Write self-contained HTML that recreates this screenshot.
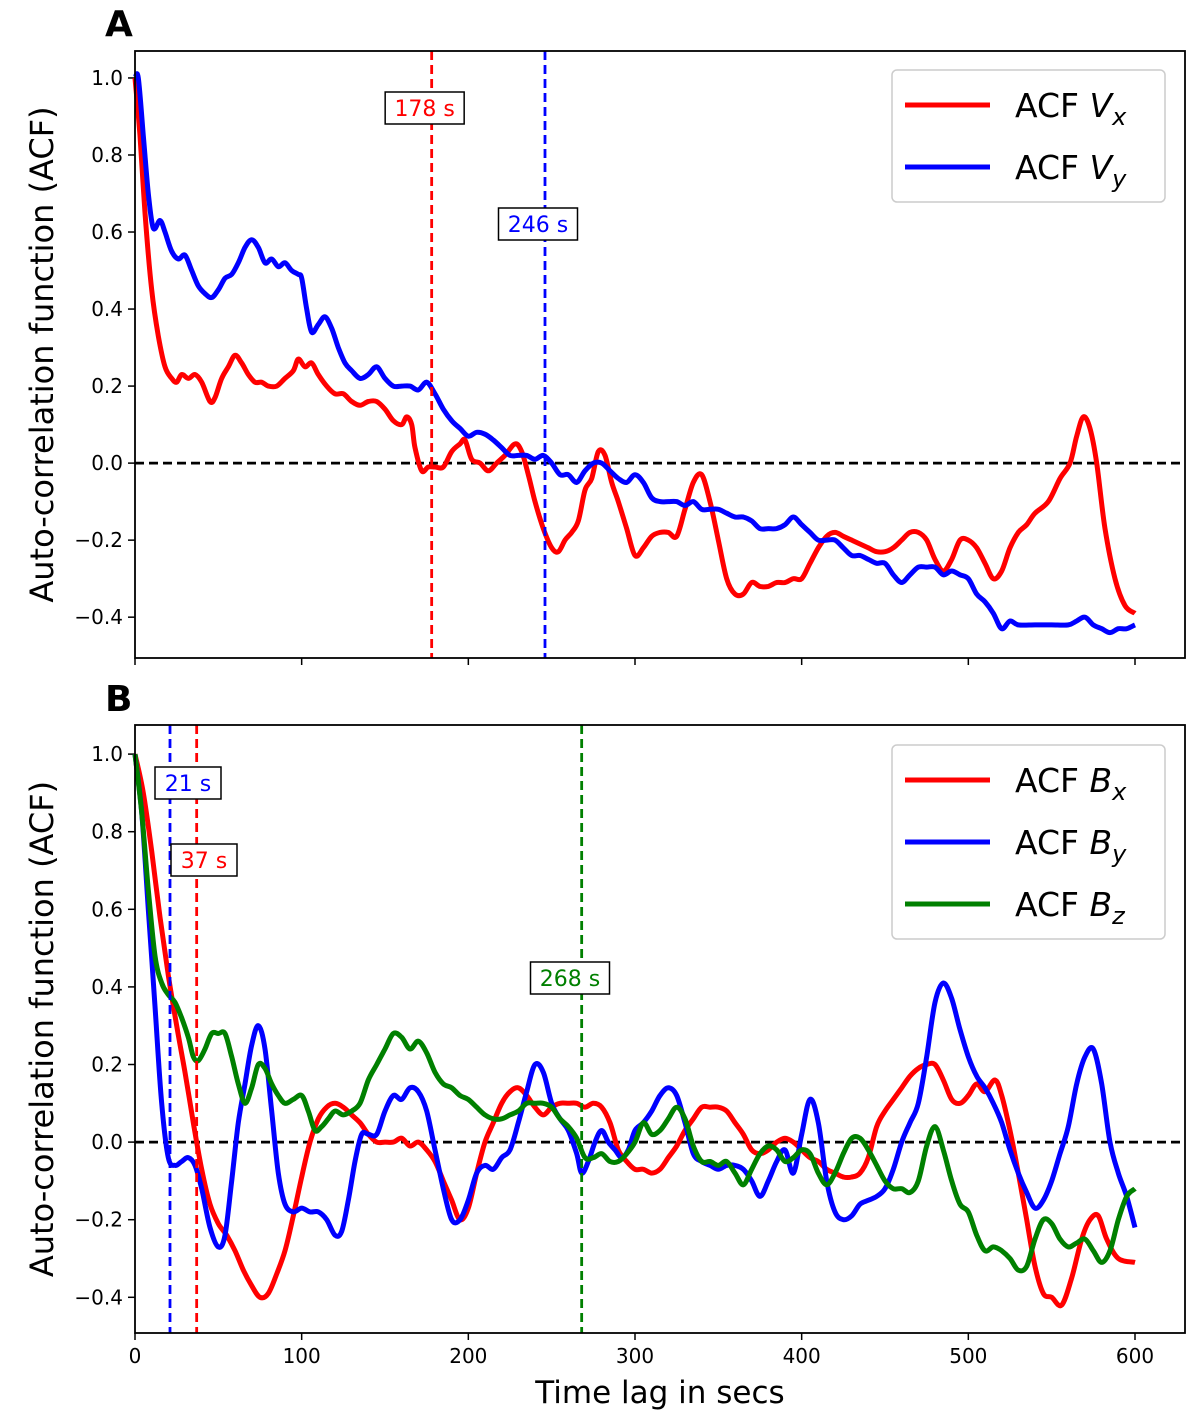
<!DOCTYPE html>
<html><head><meta charset="utf-8"><style>
body{margin:0;background:#fff}
svg{display:block;font-family:"DejaVu Sans","Liberation Sans",sans-serif}
</style></head><body>
<svg id="fig" width="1200" height="1420" viewBox="0 0 1200 1420"></svg>
<script>
// Panel A data
const tA = [0,3,6,10,14,18,22,25,28,32,36,40,45,48,52,56,60,64,68,72,76,80,85,90,95,98,102,106,110,115,120,125,130,135,140,145,150,155,160,163,166,168,172,176,180,185,190,195,198,202,207,212,217,222,228,232,236,240,245,250,254,258,262,266,270,274,278,282,286,290,295,300,305,310,315,320,325,330,335,340,345,350,355,360,365,370,375,380,385,390,395,400,405,410,415,420,425,430,435,440,445,450,455,460,465,470,475,480,485,490,495,500,505,510,515,520,525,530,535,540,548,555,561,565,569,573,577,582,588,594,600];
const vx = [1.0,0.85,0.65,0.45,0.33,0.25,0.22,0.21,0.23,0.22,0.23,0.21,0.16,0.17,0.22,0.25,0.28,0.26,0.23,0.21,0.21,0.20,0.2,0.22,0.24,0.27,0.25,0.26,0.23,0.2,0.18,0.18,0.16,0.15,0.16,0.16,0.14,0.11,0.1,0.12,0.1,0.04,-0.02,-0.01,-0.01,-0.01,0.03,0.05,0.06,0.01,0.0,-0.02,0.0,0.02,0.05,0.03,-0.03,-0.1,-0.17,-0.22,-0.23,-0.2,-0.18,-0.15,-0.07,-0.04,0.03,0.02,-0.05,-0.1,-0.17,-0.24,-0.22,-0.19,-0.18,-0.18,-0.19,-0.12,-0.05,-0.03,-0.1,-0.2,-0.3,-0.34,-0.34,-0.31,-0.32,-0.32,-0.31,-0.31,-0.3,-0.3,-0.26,-0.22,-0.19,-0.18,-0.19,-0.2,-0.21,-0.22,-0.23,-0.23,-0.22,-0.2,-0.18,-0.18,-0.2,-0.25,-0.28,-0.25,-0.2,-0.2,-0.22,-0.26,-0.3,-0.28,-0.22,-0.18,-0.16,-0.13,-0.1,-0.04,0.0,0.07,0.12,0.09,0.0,-0.17,-0.3,-0.37,-0.39];
const tB5 = [0,2,5,8,11,15,18,22,26,30,34,38,42,46,50,54,58,62,66,70,74,78,82,86,90,94,98,100,103,106,110,114,118,122,126,130,135,140,145,150,155,160,165,170,175,180,185,190,195,200,205,210,215,220,225,230,235,240,245,250,255,260,265,270,275,280,285,290,295,300,305,310,315,320,325,330,335,340,345,350,355,360,365,370,375,380,385,390,395,400,405,410,415,420,425,430,435,440,445,450,455,460,465,470,475,480,485,490,495,500,505,510,515,520,525,530,540,550,560,565,570,575,580,585,590,595,600];
const vy = [1.0,1.0,0.85,0.7,0.61,0.63,0.6,0.55,0.53,0.54,0.5,0.46,0.44,0.43,0.45,0.48,0.49,0.52,0.56,0.58,0.56,0.52,0.53,0.51,0.52,0.5,0.49,0.48,0.40,0.34,0.36,0.38,0.35,0.3,0.26,0.24,0.22,0.23,0.25,0.22,0.2,0.2,0.2,0.19,0.21,0.18,0.14,0.11,0.09,0.07,0.08,0.075,0.06,0.04,0.02,0.02,0.02,0.01,0.02,0.0,-0.03,-0.03,-0.05,-0.02,0.0,0.0,-0.02,-0.04,-0.05,-0.03,-0.05,-0.09,-0.1,-0.1,-0.1,-0.11,-0.1,-0.12,-0.12,-0.12,-0.13,-0.14,-0.14,-0.15,-0.17,-0.17,-0.17,-0.16,-0.14,-0.16,-0.18,-0.2,-0.2,-0.2,-0.22,-0.24,-0.24,-0.25,-0.26,-0.26,-0.29,-0.31,-0.29,-0.27,-0.27,-0.27,-0.29,-0.28,-0.29,-0.3,-0.34,-0.36,-0.39,-0.43,-0.41,-0.42,-0.42,-0.42,-0.42,-0.41,-0.40,-0.42,-0.43,-0.44,-0.43,-0.43,-0.42];
// Panel B data
const tBx = [0,5,10,15,20,25,30,35,40,45,50,55,60,65,70,75,80,85,90,95,100,105,110,115,120,125,130,135,140,145,150,155,160,165,170,175,180,185,190,195,200,205,210,215,220,225,230,235,240,245,250,255,260,265,270,275,280,285,290,295,300,305,310,315,320,325,330,335,340,345,350,355,360,365,370,375,380,385,390,395,400,405,410,415,420,425,430,435,440,445,450,455,460,465,470,475,480,485,490,495,500,505,510,516,520,525,530,535,540,545,550,556,562,568,573,578,583,590,600];
const bx = [1.0,0.9,0.75,0.58,0.43,0.3,0.18,0.05,-0.07,-0.16,-0.21,-0.24,-0.28,-0.33,-0.37,-0.4,-0.39,-0.34,-0.28,-0.19,-0.09,0.0,0.06,0.09,0.1,0.09,0.07,0.05,0.02,0.0,0.0,0.0,0.01,-0.01,0.0,-0.02,-0.05,-0.1,-0.15,-0.2,-0.17,-0.08,0.0,0.05,0.1,0.13,0.14,0.12,0.09,0.07,0.09,0.1,0.1,0.1,0.09,0.1,0.09,0.05,-0.02,-0.05,-0.07,-0.07,-0.08,-0.07,-0.04,-0.01,0.03,0.06,0.09,0.09,0.09,0.08,0.05,0.02,-0.02,-0.03,-0.02,0.0,0.01,0.0,-0.02,-0.04,-0.05,-0.07,-0.08,-0.09,-0.09,-0.08,-0.04,0.04,0.08,0.11,0.14,0.17,0.19,0.2,0.2,0.16,0.11,0.1,0.12,0.15,0.13,0.16,0.12,0.03,-0.08,-0.2,-0.32,-0.39,-0.4,-0.42,-0.35,-0.25,-0.2,-0.19,-0.25,-0.3,-0.31];
const tBy = [0,4,8,12,16,20,24,28,32,36,40,45,50,54,58,62,66,70,74,78,82,86,90,95,100,105,110,115,120,124,128,132,136,140,145,150,155,160,165,170,175,180,185,190,195,200,205,210,215,220,225,230,235,240,245,250,255,260,265,268,272,276,280,284,288,292,296,300,305,310,315,320,325,330,335,340,345,350,355,360,365,370,375,380,385,390,395,400,405,410,415,420,425,430,435,440,445,450,455,460,465,470,475,480,485,490,495,500,505,510,515,520,525,530,535,540,545,550,555,560,565,570,575,580,585,590,595,600];
const by = [1.0,0.85,0.6,0.35,0.1,-0.04,-0.06,-0.05,-0.04,-0.06,-0.12,-0.22,-0.27,-0.24,-0.1,0.05,0.15,0.25,0.3,0.24,0.08,-0.08,-0.16,-0.18,-0.17,-0.18,-0.18,-0.2,-0.24,-0.23,-0.15,-0.05,0.02,0.02,0.02,0.08,0.12,0.11,0.14,0.13,0.08,-0.02,-0.12,-0.2,-0.2,-0.15,-0.08,-0.06,-0.07,-0.04,-0.02,0.05,0.13,0.2,0.18,0.1,0.06,0.03,-0.03,-0.08,-0.05,0.0,0.03,0.0,-0.02,-0.04,-0.02,0.03,0.05,0.08,0.12,0.14,0.12,0.05,-0.03,-0.05,-0.06,-0.07,-0.06,-0.06,-0.07,-0.1,-0.14,-0.1,-0.05,-0.02,-0.08,0.02,0.11,0.05,-0.1,-0.18,-0.2,-0.19,-0.16,-0.15,-0.14,-0.12,-0.07,0.0,0.05,0.1,0.22,0.36,0.41,0.37,0.29,0.22,0.17,0.14,0.1,0.05,-0.02,-0.08,-0.13,-0.17,-0.15,-0.1,-0.03,0.04,0.15,0.22,0.24,0.15,0.0,-0.08,-0.14,-0.22];
const tBz = [0,4,8,12,16,20,24,28,32,35,38,42,46,50,54,58,62,66,70,74,78,82,86,90,95,100,104,108,112,116,120,125,130,135,140,145,150,155,160,165,170,175,180,185,190,195,200,205,210,215,220,225,230,235,240,245,250,255,260,265,270,275,280,285,290,295,300,305,310,315,320,325,330,335,340,345,350,355,360,365,370,375,380,385,390,395,400,405,410,415,420,425,430,435,440,445,450,455,460,465,470,475,480,485,490,495,500,505,510,515,520,525,530,535,540,545,550,555,560,565,570,575,580,585,590,595,600];
const bz = [1.0,0.85,0.65,0.48,0.41,0.38,0.36,0.32,0.27,0.22,0.21,0.24,0.28,0.28,0.28,0.22,0.15,0.1,0.14,0.2,0.19,0.15,0.12,0.1,0.11,0.12,0.08,0.03,0.04,0.06,0.08,0.07,0.08,0.1,0.16,0.2,0.24,0.28,0.27,0.24,0.26,0.23,0.18,0.15,0.14,0.12,0.11,0.09,0.07,0.06,0.06,0.07,0.08,0.1,0.1,0.1,0.09,0.06,0.04,0.01,-0.04,-0.04,-0.03,-0.05,-0.05,-0.03,0.0,0.05,0.02,0.03,0.06,0.09,0.06,-0.01,-0.05,-0.05,-0.06,-0.05,-0.08,-0.11,-0.07,-0.03,-0.01,-0.02,-0.05,-0.04,-0.02,-0.03,-0.08,-0.11,-0.08,-0.03,0.01,0.01,-0.02,-0.06,-0.1,-0.12,-0.12,-0.13,-0.1,-0.01,0.04,-0.02,-0.1,-0.16,-0.18,-0.24,-0.28,-0.27,-0.28,-0.3,-0.33,-0.32,-0.25,-0.2,-0.21,-0.25,-0.27,-0.26,-0.25,-0.28,-0.31,-0.28,-0.2,-0.14,-0.12];
const xTicks = [0,100,200,300,400,500,600];
const yTicks = [-0.4,-0.2,0.0,0.2,0.4,0.6,0.8,1.0];
const markersA = [178,246];
const markersB = [21,37,268];

const NS='http://www.w3.org/2000/svg';
const svg=document.getElementById('fig');
function mk(tag,attrs,parent){const e=document.createElementNS(NS,tag);for(const k in attrs)e.setAttribute(k,attrs[k]);(parent||svg).appendChild(e);return e;}
const X0=135,X1=1185,XMIN=0,XMAX=630;
const xs=v=>X0+(v-XMIN)/(XMAX-XMIN)*(X1-X0);
function panel(top,bottom,ymin,ymax){return v=>bottom-(v-ymin)/(ymax-ymin)*(bottom-top);}
const ysA=panel(51,658,-0.506,1.07);
const ysB=panel(725,1333,-0.492,1.075);

function smoothPath(ts,vs,ys){
  const p=ts.map((t,i)=>[xs(t),ys(vs[i])]);
  let d='M'+p[0][0].toFixed(1)+','+p[0][1].toFixed(1);
  for(let i=0;i<p.length-1;i++){
    const p0=p[Math.max(0,i-1)],p1=p[i],p2=p[i+1],p3=p[Math.min(p.length-1,i+2)];
    const c1=[p1[0]+(p2[0]-p0[0])/6,p1[1]+(p2[1]-p0[1])/6];
    const c2=[p2[0]-(p3[0]-p1[0])/6,p2[1]-(p3[1]-p1[1])/6];
    d+=' C'+c1[0].toFixed(1)+','+c1[1].toFixed(1)+' '+c2[0].toFixed(1)+','+c2[1].toFixed(1)+' '+p2[0].toFixed(1)+','+p2[1].toFixed(1);
  }
  return d;
}

function axes(name,top,bottom,ys,showXLabels){
  const g=mk('g',{});
  
  
  xTicks.forEach(t=>{
    const l=mk('line',{x1:xs(t),x2:xs(t),y1:bottom,y2:bottom+7,stroke:'#000','stroke-width':1.5},g);
    
    
    if(showXLabels){
      const tx=mk('text',{x:xs(t),y:bottom+30,'text-anchor':'middle','font-size':20},g);
      tx.textContent=t;
      
      
    }
  });
  yTicks.forEach(v=>{
    const y=ys(v);
    const l=mk('line',{x1:X0-7,x2:X0,y1:y,y2:y,stroke:'#000','stroke-width':1.5},g);
    
    
    const tx=mk('text',{x:X0-12,y:y+7,'text-anchor':'end','font-size':20},g);
    tx.textContent=(v<0?'\u2212':'')+Math.abs(v).toFixed(1);
    
    
  });
  const yt=mk('text',{x:0,y:0,transform:`translate(52,${(top+bottom)/2}) rotate(-90)`,'text-anchor':'middle','font-size':32},g);
  yt.setAttribute('transform',`translate(53,${(top+bottom)/2}) rotate(-90)`);
  yt.textContent='Auto-correlation function (ACF)';
  
  
  const z=mk('line',{x1:X0,x2:X1,y1:ys(0),y2:ys(0),stroke:'#000','stroke-width':2.8,'stroke-dasharray':'9,5'},g);
  
  
}
function series(name,ts,vs,ys,color){
  const p=mk('path',{d:smoothPath(ts,vs,ys),fill:'none',stroke:color,'stroke-width':5,'stroke-linejoin':'round'});
  
  
}
function vmark(name,t,top,bottom,color){
  const l=mk('line',{x1:xs(t),x2:xs(t),y1:top,y2:bottom,stroke:color,'stroke-width':2.8,'stroke-dasharray':'9,5'});
  
  
}
function tag(name,label,cx,cy,color){
  const g=mk('g',{});
  
  
  const w=label.length*13+14;
  mk('rect',{x:cx-w/2,y:cy-16,width:w,height:32,fill:'#fff',stroke:'#000','stroke-width':1.5},g);
  const t=mk('text',{x:cx,y:cy+8,'text-anchor':'middle','font-size':22,fill:color},g);
  t.textContent=label;
}
function legend(name,y0,items){
  const g=mk('g',{});
  
  
  const h=items.length*62+8;
  mk('rect',{x:892,y:y0,width:273,height:h,rx:5,fill:'#fff',stroke:'#ccc','stroke-width':1.5},g);
  items.forEach((it,i)=>{
    const cy=y0+35+i*62;
    const e=mk('g',{},g);
    
    
    mk('line',{x1:905,x2:990,y1:cy,y2:cy,stroke:it[1],'stroke-width':5},e);
    const t=mk('text',{x:1015,y:cy+12,'font-size':33},e);
    t.innerHTML='ACF <tspan font-style="italic">'+it[0][0]+'</tspan><tspan font-style="italic" font-size="24" dy="8">'+it[0][1]+'</tspan>';
  });
}

// Panel A
axes('panel-a-axes',51,658,ysA,false);
series('series-vx',tA,vx,ysA,'#ff0000');
series('series-vy',tB5,vy,ysA,'#0000ff');
vmark('marker-178s',markersA[0],51,658,'#ff0000');
vmark('marker-246s',markersA[1],51,658,'#0000ff');
tag('label-178s',markersA[0]+' s',xs(markersA[0])-7,108,'#ff0000');
tag('label-246s',markersA[1]+' s',xs(markersA[1])-7,224,'#0000ff');
legend('legend-a',70,[['Vx','#ff0000'],['Vy','#0000ff']]);
mk('rect',{x:X0,y:51,width:X1-X0,height:607,fill:'none',stroke:'#000','stroke-width':1.8});
const la=mk('text',{x:105,y:36,'font-size':36,'font-weight':'bold'});la.textContent='A';



// Panel B
axes('panel-b-axes',725,1333,ysB,true);
series('series-bx',tBx,bx,ysB,'#ff0000');
series('series-by',tBy,by,ysB,'#0000ff');
series('series-bz',tBz,bz,ysB,'#008000');
vmark('marker-21s',markersB[0],725,1333,'#0000ff');
vmark('marker-37s',markersB[1],725,1333,'#ff0000');
vmark('marker-268s',markersB[2],725,1333,'#008000');
tag('label-21s',markersB[0]+' s',188,783,'#0000ff');
tag('label-37s',markersB[1]+' s',204,860,'#ff0000');
tag('label-268s',markersB[2]+' s',570,978,'#008000');
legend('legend-b',745,[['Bx','#ff0000'],['By','#0000ff'],['Bz','#008000']]);
mk('rect',{x:X0,y:725,width:X1-X0,height:608,fill:'none',stroke:'#000','stroke-width':1.8});
const lb=mk('text',{x:105,y:711,'font-size':36,'font-weight':'bold'});lb.textContent='B';


const xt=mk('text',{x:660,y:1403,'text-anchor':'middle','font-size':31});xt.textContent='Time lag in secs';


</script>
</body></html>
